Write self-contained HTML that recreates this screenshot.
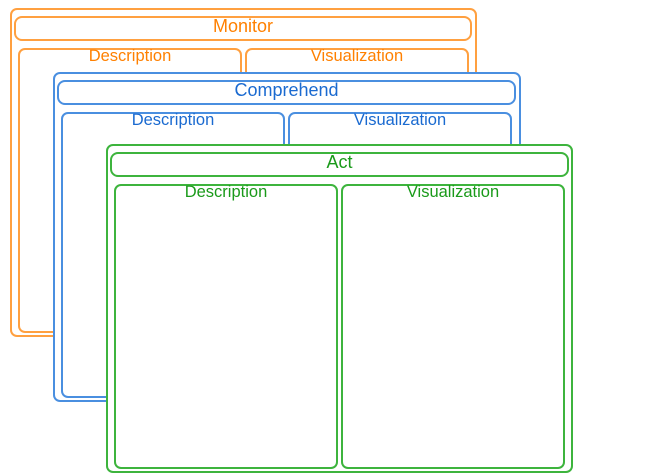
<!DOCTYPE html>
<html><head><style>
body{margin:0;width:650px;height:476px;background:#fff;position:relative;overflow:hidden;font-family:"Liberation Sans",sans-serif}
.b{position:absolute;box-sizing:border-box;border:2px solid;border-radius:7px;background:#fff}
.h{position:absolute;box-sizing:border-box;border:2px solid;border-radius:8px;text-align:center;font-size:18px;line-height:16px}
.s{position:absolute;box-sizing:border-box;border:2px solid;border-radius:7px;text-align:center;font-size:16.5px;line-height:13px}
.o{border-color:#ffa040;color:#ff8000}
.u{border-color:#4a8fe0;color:#1a6ad0}
.g{border-color:#3db43d;color:#1a9a1a}
</style></head><body>
<div class="b o" style="left:10px;top:8px;width:467px;height:329px"></div>
<div class="h o" style="left:14px;top:16px;width:458px;height:25px">Monitor</div>
<div class="s o" style="left:18px;top:48px;width:224px;height:285px">Description</div>
<div class="s o" style="left:245px;top:48px;width:224px;height:285px">Visualization</div>

<div class="b u" style="left:53px;top:72px;width:468px;height:330px"></div>
<div class="h u" style="left:57px;top:80px;width:459px;height:25px">Comprehend</div>
<div class="s u" style="left:61px;top:112px;width:224px;height:286px">Description</div>
<div class="s u" style="left:288px;top:112px;width:224px;height:286px">Visualization</div>

<div class="b g" style="left:106px;top:144px;width:467px;height:329px"></div>
<div class="h g" style="left:110px;top:152px;width:459px;height:25px">Act</div>
<div class="s g" style="left:114px;top:184px;width:224px;height:285px">Description</div>
<div class="s g" style="left:341px;top:184px;width:224px;height:285px">Visualization</div>
</body></html>
